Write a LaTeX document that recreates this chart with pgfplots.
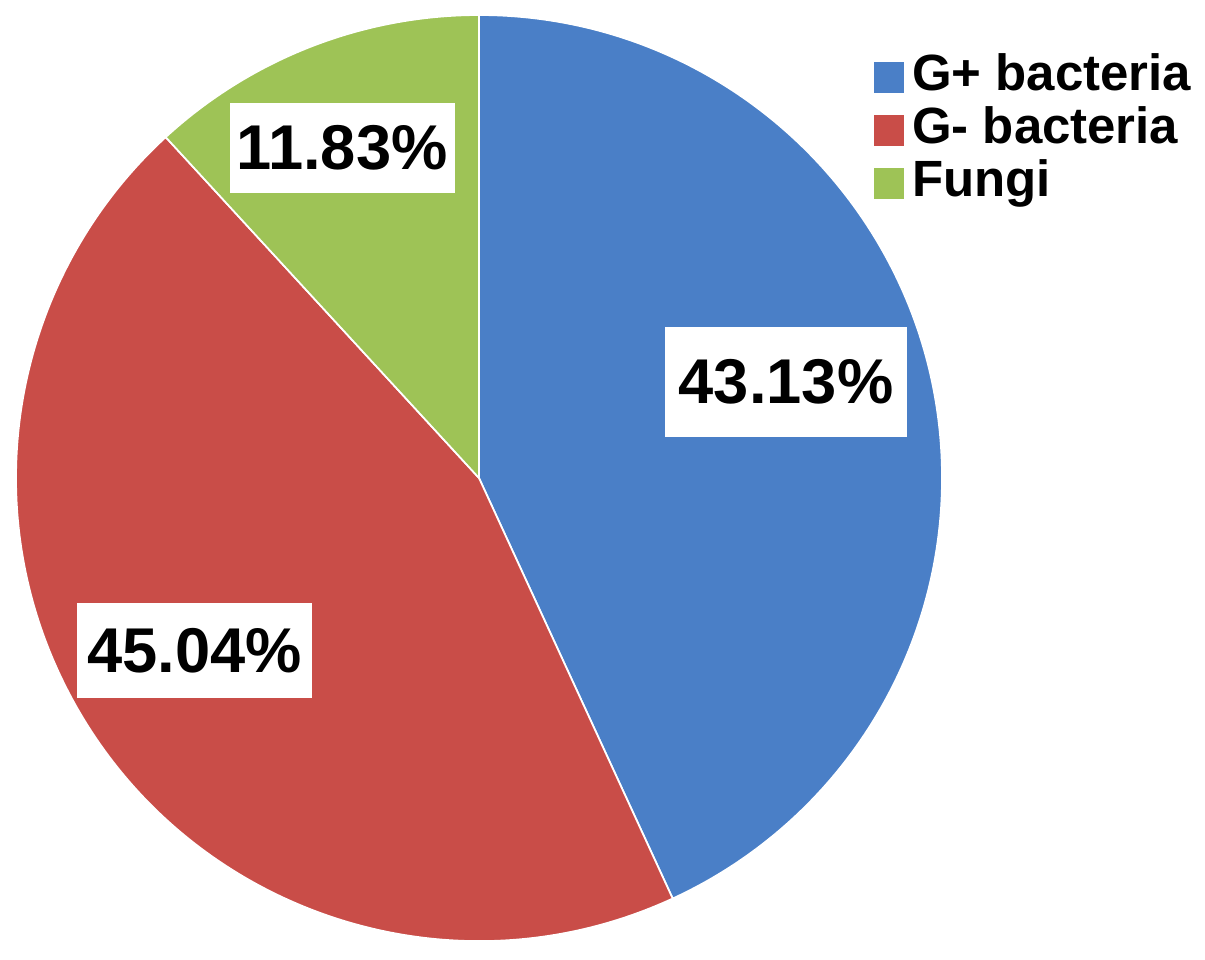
\documentclass[border=0pt]{standalone}
\usepackage{fontspec}
\setmainfont{Liberation Sans}
\usepackage{pgfplots}
\usepackage{pgfplotstable}
\pgfplotsset{compat=1.18}

\definecolor{gpos}{RGB}{74,127,199}
\definecolor{gneg}{RGB}{201,77,72}
\definecolor{fungi}{RGB}{158,195,86}

% share of each group, percent
\pgfplotstableread{
group share
Gpos  43.13
Gneg  45.04
Fungi 11.83
}\piedata

% slice end angles, clockwise from 12 o'clock
\pgfplotstablegetelem{0}{share}\of\piedata\let\sA\pgfplotsretval%
\pgfplotstablegetelem{1}{share}\of\piedata\let\sB\pgfplotsretval%
\pgfplotstablegetelem{2}{share}\of\piedata\let\sC\pgfplotsretval%
\pgfmathsetmacro\angA{90-3.6*\sA}%
\pgfmathsetmacro\angB{\angA-3.6*\sB}%
\pgfmathsetmacro\angC{\angB-3.6*\sC}%

\begin{document}
\begin{tikzpicture}
\begin{axis}[
  scale only axis,
  width=12.05cm, height=9.59cm,
  xmin=0, xmax=1205, ymin=0, ymax=959,
  hide axis, clip=false,
  legend cell align=left,
  legend style={at={(axis cs:873,828.5)}, anchor=west, draw=none, fill=none,
    inner sep=0pt, column sep=0.08cm, row sep=0.05cm,
    font=\fontsize{14.5}{16}\selectfont\bfseries,
    nodes={inner sep=0pt, text height=0.37cm, text depth=0.11cm}},
]
\coordinate (bbA) at (rel axis cs:0,0);
\coordinate (bbB) at (rel axis cs:1,1);

\addlegendimage{legend image code/.code={\fill[gpos] (0cm,-0.145cm) rectangle (0.29cm,0.145cm);}}
\addlegendentry{G+ bacteria}
\addlegendimage{legend image code/.code={\fill[gneg] (0cm,-0.145cm) rectangle (0.29cm,0.145cm);}}
\addlegendentry{G- bacteria}
\addlegendimage{legend image code/.code={\fill[fungi] (0cm,-0.145cm) rectangle (0.29cm,0.145cm);}}
\addlegendentry{Fungi}

\filldraw[fill=gpos, draw=white, line width=0.5pt] (axis cs:479,481) -- ++(90:4.63cm)
  arc[start angle=90, end angle=\angA, radius=4.63cm] -- cycle;
\filldraw[fill=gneg, draw=white, line width=0.5pt] (axis cs:479,481) -- ++(\angA:4.63cm)
  arc[start angle=\angA, end angle=\angB, radius=4.63cm] -- cycle;
\filldraw[fill=fungi, draw=white, line width=0.5pt] (axis cs:479,481) -- ++(\angB:4.63cm)
  arc[start angle=\angB, end angle=\angC, radius=4.63cm] -- cycle;

\tikzset{lbl/.style={fill=white, inner sep=0pt, font=\fontsize{18}{18}\selectfont\bfseries}}
\node[lbl, minimum width=2.42cm, minimum height=1.10cm] at (axis cs:786,577) {43.13\%};
\node[lbl, minimum width=2.35cm, minimum height=0.95cm] at (axis cs:194.5,308.5) {45.04\%};
\node[lbl, minimum width=2.25cm, minimum height=0.90cm] at (axis cs:342,811) {11.83\%};
\end{axis}
\pgfresetboundingbox
\useasboundingbox (bbA) rectangle (bbB);
\end{tikzpicture}
\end{document}
